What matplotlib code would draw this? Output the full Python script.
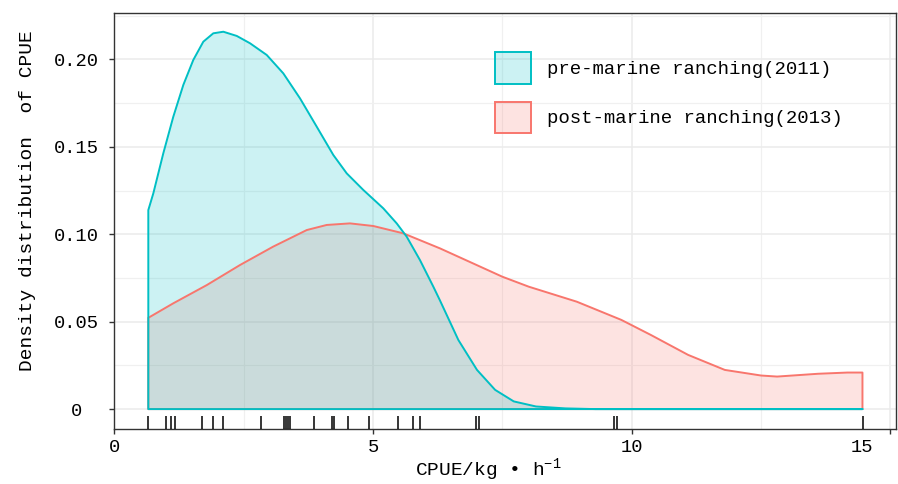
import matplotlib
matplotlib.use("Agg")
import matplotlib.pyplot as plt
from matplotlib.patches import Patch
from matplotlib.ticker import MultipleLocator
from matplotlib.transforms import ScaledTranslation

plt.rcParams['font.family'] = ['Liberation Mono', 'DejaVu Sans']
plt.rcParams['mathtext.fontset'] = 'custom'
plt.rcParams['mathtext.rm'] = 'Liberation Mono'

# Kernel density of CPUE, 2011 survey (before the ranch was built)
pre_x = [0.657, 0.754, 0.947, 1.140, 1.334, 1.527, 1.720, 1.913, 2.107, 2.366,
         2.623, 2.946, 3.266, 3.589, 3.912, 4.233, 4.492, 4.813, 5.199, 5.458,
         5.651, 5.908, 6.166, 6.29, 6.65, 7.01, 7.36, 7.72, 8.15, 8.72, 9.3, 14.46]
pre_density = [0.1138, 0.1234, 0.1463, 0.1672, 0.1854, 0.1997, 0.2101, 0.2149, 0.2158, 0.2134,
               0.2092, 0.2025, 0.1920, 0.1777, 0.1615, 0.1453, 0.1348, 0.1253, 0.1148, 0.1062,
               0.0986, 0.0852, 0.0700, 0.0624, 0.0395, 0.0224, 0.0110, 0.0044, 0.0015, 0.0004, 0.0, 0.0]

# Kernel density of CPUE, 2013 survey (after the ranch was built)
post_x = [0.657, 1.14, 1.786, 2.43, 3.07, 3.72, 4.105, 4.555, 5.006, 5.586,
          6.295, 7.5, 8.01, 8.94, 9.80, 10.37, 11.09, 11.80, 12.5, 12.81,
          13.6, 14.17, 14.46]
post_density = [0.0522, 0.0605, 0.0709, 0.0824, 0.0929, 0.1024, 0.1053, 0.1062, 0.1047, 0.1005,
                0.0919, 0.0757, 0.0700, 0.0614, 0.0510, 0.0424, 0.0310, 0.0224, 0.0192, 0.0186,
                0.0202, 0.0209, 0.0209]

# Observed CPUE values (rug)
rug_cpue = [0.66, 1.0, 1.1, 1.18, 1.7, 1.9, 2.11, 2.84, 3.27, 3.31, 3.35, 3.40, 3.85,
            4.21, 4.24, 4.51, 4.93, 5.48, 5.78, 5.91, 6.99, 7.04, 9.65, 9.72, 14.47]

labels = ['pre-marine ranching(2011)', 'post-marine ranching(2013)']
colors = ['#00BFC4', '#F8766D']
x_ticks = [0, 5, 10, 15]
y_ticks = [0, 0.05, 0.10, 0.15, 0.20]
y_tick_labels = ['0', '0.05', '0.10', '0.15', '0.20']

fig = plt.figure(figsize=(8.98, 4.84), dpi=100)
ax = fig.add_axes([0.1273, 0.1143, 0.8700, 0.8588])

# closed density polygons, 2013 underneath
for xs, ds, c in [(post_x, post_density, colors[1]), (pre_x, pre_density, colors[0])]:
    px = [xs[0]] + list(xs) + [xs[-1]]
    py = [0] + list(ds) + [0]
    ax.fill(px, py, facecolor=c, alpha=0.2, edgecolor='none', zorder=2)
    ax.fill(px, py, facecolor='none', edgecolor=c, lw=1.4, zorder=3, joinstyle='round')

# rug along the bottom of the panel
ax.vlines(rug_cpue, 0, 0.03, transform=ax.get_xaxis_transform(),
          colors='black', lw=1.1, zorder=4)

ax.set_xlim(0, 15.1)
ax.set_ylim(-0.0112, 0.2265)
ax.set_xticks(x_ticks)
ax.set_xticklabels([str(t) for t in x_ticks])
ax.set_yticks(y_ticks)
ax.set_yticklabels(y_tick_labels)
ax.xaxis.set_minor_locator(MultipleLocator(2.5))
ax.yaxis.set_minor_locator(MultipleLocator(0.025))

ax.set_axisbelow(True)
ax.grid(which='major', color='#EBEBEB', lw=1.1)
ax.grid(which='minor', color='#F0F0F0', lw=0.9)
for sp in ax.spines.values():
    sp.set_color('#333333')
    sp.set_linewidth(1.0)

ax.tick_params(which='major', length=3.5, width=1, color='#333333',
               labelsize=13.5, labelcolor='black')
ax.tick_params(which='minor', length=0)
ax.tick_params(axis='x', pad=4)
ax.tick_params(axis='y', pad=24)
for lbl in ax.get_yticklabels():
    lbl.set_ha('center')

# keep the last x label inside the figure edge
last = ax.get_xticklabels()[-1]
last.set_transform(last.get_transform() + ScaledTranslation(-0.28, 0, fig.dpi_scale_trans))

ax.set_ylabel('Density distribution  of CPUE', fontsize=14)
ax.yaxis.set_label_coords(-0.10, 0.548)
ax.set_xlabel(r'CPUE/kg • h$^{-1}$', fontsize=14)
ax.xaxis.set_label_coords(0.479, -0.068)

handles = [Patch(facecolor=(c, 0.2), edgecolor=c, lw=1.4, label=l)
           for c, l in zip(colors, labels)]
ax.legend(handles=handles, loc='upper left', bbox_to_anchor=(0.4876, 0.906),
          frameon=False, fontsize=13.7, handlelength=1.9, handleheight=2.17,
          handletextpad=0.8, labelspacing=0.95, borderpad=0, borderaxespad=0)

fig.savefig('out.png', dpi=100)
plt.close(fig)
